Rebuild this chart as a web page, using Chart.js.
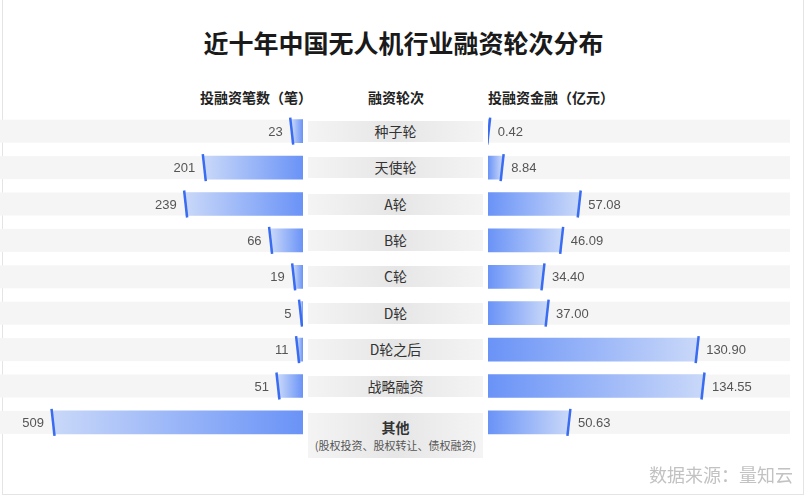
<!DOCTYPE html>
<html>
<head>
<meta charset="utf-8">
<script src="https://cdn.jsdelivr.net/npm/chart.js@4.4.0/dist/chart.umd.min.js"></script>
<style>
  body { margin: 0; background: #fff; font-family: "Noto Sans CJK SC", sans-serif; }
  #wrap { position: relative; width: 807px; height: 500px; overflow: hidden; background: #fff; }
  #frame { position: absolute; left: 2px; top: -2px; width: 802px; height: 497px; border: 1px solid #e4e4e4; box-sizing: border-box; }
  canvas { position: absolute; top: 0; }
  #leftChart { left: 0; }
  #rightChart { left: 488px; }
  .txt { position: absolute; white-space: nowrap; }
  #title { left: 0; width: 807px; top: 24px; text-align: center; font-size: 25px; font-weight: 600; color: #1a1a1a; }
  .head { top: 87px; font-size: 14px; font-weight: 600; color: #222; }
  .cell { position: absolute; left: 308px; width: 175px; text-align: center; color: #333; font-size: 14px;
          background: linear-gradient(90deg, #f4f4f4 0%, #e6e6e6 50%, #f4f4f4 100%); }
  .cell small { display: block; font-size: 11px; color: #555; line-height: 14px; }
  #source { right: 14px; top: 461px; font-size: 18px; color: #c2c2c2; }
</style>
</head>
<body>
<div id="wrap">
  <div id="frame"></div>
  <div id="title" class="txt">近十年中国无人机行业融资轮次分布</div>
  <div class="txt head" style="left:200px;">投融资笔数（笔）</div>
  <div class="txt head" style="left:368px;">融资轮次</div>
  <div class="txt head" style="left:488px;">投融资金融（亿元）</div>
  <canvas id="leftChart" width="303" height="500"></canvas>
  <canvas id="rightChart" width="302" height="500"></canvas>
  <div id="source" class="txt">数据来源：量知云</div>
</div>
<script>
const rounds = ["种子轮", "天使轮", "A轮", "B轮", "C轮", "D轮", "D轮之后", "战略融资", "其他"];
const otherNote = "(股权投资、股权转让、债权融资)";
const dealCounts = [23, 201, 239, 66, 19, 5, 11, 51, 509];
const amounts = [0.42, 8.84, 57.08, 46.09, 34.40, 37.00, 130.90, 134.55, 50.63];
const amountLabels = ["0.42", "8.84", "57.08", "46.09", "34.40", "37.00", "130.90", "134.55", "50.63"];

const STRONG = "#6a93f7";
const LIGHT = "#c9d8f9";
const TICK = "#3a6cf2";
const BAR_H = 23;

// gradient runs from the outer end (light) to the base (strong), per bar
function barGradient(c) {
  const chart = c.chart;
  if (!chart.chartArea || c.dataIndex == null) return STRONG;
  const x = chart.scales.x;
  const x0 = x.getPixelForValue(0);
  const x1 = x.getPixelForValue(c.raw);
  if (!isFinite(x0) || !isFinite(x1) || x0 === x1) return STRONG;
  const g = chart.ctx.createLinearGradient(x1, 0, x0, 0);
  g.addColorStop(0, LIGHT);
  g.addColorStop(1, STRONG);
  return g;
}

const rowDeco = {
  id: "rowDeco",
  beforeDatasetsDraw(chart, args, opts) {
    const { ctx, chartArea } = chart;
    const meta = chart.getDatasetMeta(0);
    ctx.save();
    ctx.fillStyle = "#f5f5f5";
    meta.data.forEach(bar => {
      ctx.fillRect(chartArea.left, bar.y - BAR_H / 2, chartArea.width, BAR_H);
    });
    ctx.restore();
  },
  afterDatasetsDraw(chart, args, opts) {
    const { ctx } = chart;
    const meta = chart.getDatasetMeta(0);
    const dir = opts.side === "left" ? -1 : 1;
    ctx.save();
    meta.data.forEach((bar, i) => {
      const x = bar.x;
      ctx.strokeStyle = TICK;
      ctx.lineWidth = 2.5;
      ctx.beginPath();
      ctx.moveTo(x + dir * 1.5, bar.y - 13.5);
      ctx.lineTo(x - dir * 1.5, bar.y + 13.5);
      ctx.stroke();

      ctx.fillStyle = "#555";
      ctx.font = '13px "Liberation Sans", Arial, sans-serif';
      ctx.textBaseline = "middle";
      ctx.textAlign = opts.side === "left" ? "right" : "left";
      ctx.fillText(opts.labels[i], x + dir * 9, bar.y + 1);
    });
    ctx.restore();
  }
};

function makeChart(id, values, labels, side, max) {
  return new Chart(document.getElementById(id), {
    type: "bar",
    data: {
      labels: rounds,
      datasets: [{
        data: values,
        backgroundColor: barGradient,
        borderWidth: 0,
        barThickness: BAR_H
      }]
    },
    options: {
      indexAxis: "y",
      responsive: false,
      animation: false,
      layout: { padding: { top: 113, bottom: 59.4, left: 0, right: 0 } },
      scales: {
        x: { display: false, min: 0, max: max, reverse: side === "left", grid: { display: false } },
        y: { display: false, grid: { display: false } }
      },
      plugins: {
        legend: { display: false },
        tooltip: { enabled: false },
        rowDeco: { side: side, labels: labels }
      }
    },
    plugins: [rowDeco]
  });
}

const leftChart = makeChart("leftChart", dealCounts, dealCounts.map(String), "left", 617);
const rightChart = makeChart("rightChart", amounts, amountLabels, "right", 189);

// centre column of round names, aligned to the chart rows
const wrap = document.getElementById("wrap");
rounds.forEach((name, i) => {
  const y = leftChart.scales.y.getPixelForValue(i);
  const cell = document.createElement("div");
  cell.className = "cell";
  if (i === rounds.length - 1) {
    cell.style.top = (y - 9.5) + "px";
    cell.style.height = "45px";
    cell.style.paddingTop = "3px";
    cell.style.boxSizing = "border-box";
    cell.innerHTML = '<b style="line-height:22px">' + name + "</b><small>" + otherNote + "</small>";
  } else {
    cell.style.top = (y - 10.5) + "px";
    cell.style.height = "21px";
    cell.style.lineHeight = "21px";
    cell.textContent = name;
  }
  wrap.appendChild(cell);
});
</script>
</body>
</html>
